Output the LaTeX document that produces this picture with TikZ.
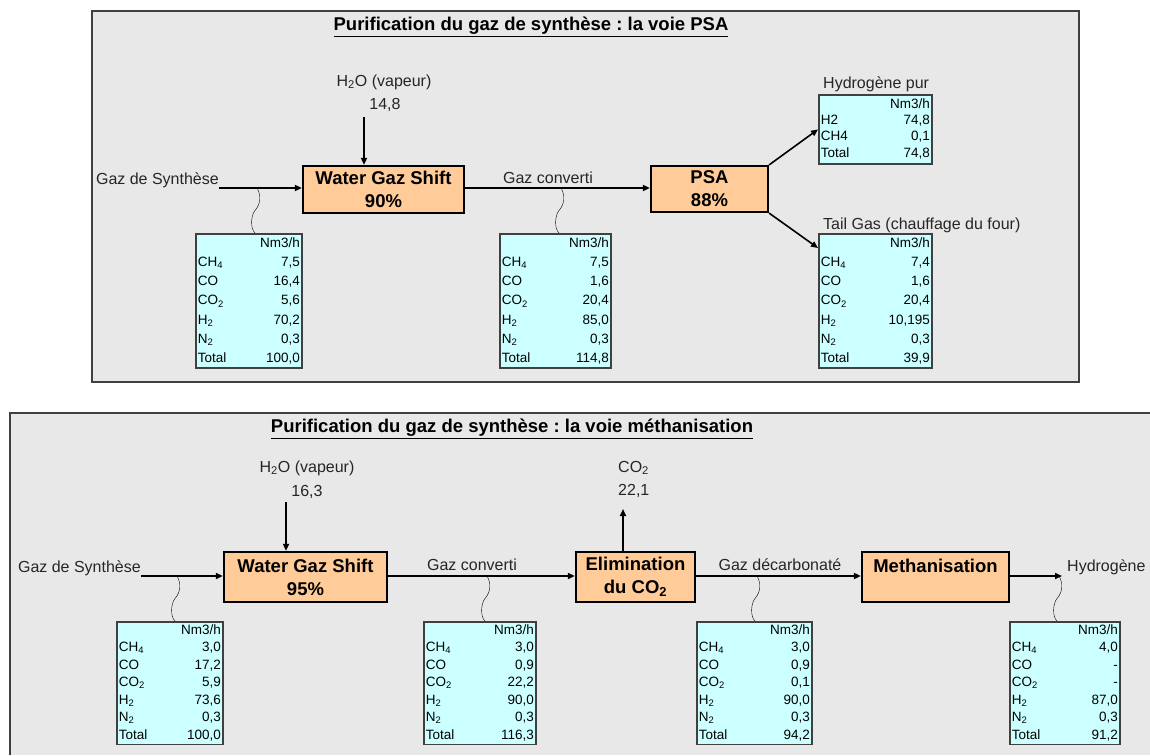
\documentclass[tikz,border=0pt]{standalone}
\usepackage{fontspec}
\setmainfont{Liberation Sans}
\usetikzlibrary{arrows.meta}
\usetikzlibrary{calc}
\usetikzlibrary{positioning}

\definecolor{panelgray}{HTML}{E8E8E8}
\definecolor{unitorange}{HTML}{FFCC99}
\definecolor{tabcyan}{HTML}{CCFFFF}
\definecolor{inkgray}{HTML}{262626}
\definecolor{rimgray}{HTML}{404040}

\frenchspacing

% composition table: pitch, then CH4 CO CO2 H2 N2 Total
\newcommand{\flowtab}[7]{%
  \fontsize{13.5}{#1}\selectfont
  \begin{tabular*}{\linewidth}{@{}l@{\extracolsep{\fill}}r@{}}
    & Nm3/h\\
    CH\textsubscript{4} & #2\\
    CO & #3\\
    CO\textsubscript{2} & #4\\
    H\textsubscript{2} & #5\\
    N\textsubscript{2} & #6\\
    Total & #7
  \end{tabular*}}

\tikzset{
  panel/.style={fill=panelgray, draw=rimgray, line width=1.1pt},
  unit/.style={draw=black, fill=unitorange, line width=2.2pt, align=center,
    font=\fontsize{18.5}{23}\selectfont\bfseries, inner sep=0pt},
  tab/.style={draw=rimgray, fill=tabcyan, line width=1.6pt, anchor=north west,
    inner xsep=2pt, inner ysep=0pt},
  lbl/.style={font=\fontsize{16}{19}\selectfont, text=inkgray, inner sep=0pt},
  heading/.style={font=\fontsize{18.5}{22}\selectfont\bfseries, inner sep=0pt},
  flow/.style={line width=1.6pt, -{Triangle[length=7pt,width=6pt]}},
  curly/.style={draw=black!85, line width=1.3pt, to path={
    .. controls ($(\tikztostart)!0.15!(\tikztotarget)+(4,0)$) and ($(\tikztostart)!0.35!(\tikztotarget)+(4,0)$)
    .. ($(\tikztostart)!0.5!(\tikztotarget)+(-2,0)$)
    .. controls ($(\tikztostart)!0.6!(\tikztotarget)+(-6,0)$) and ($(\tikztostart)!0.9!(\tikztotarget)+(-7,0)$)
    .. ($(\tikztotarget)+(-2,0)$)}},
}

\begin{document}
\begin{tikzpicture}[x=1pt, y=-1pt]
  \useasboundingbox (0,0) rectangle (1150,755);

  % voie PSA
  \draw[panel] (92,11) rectangle (1079,382);
  \node[heading] (title1) at (531,27) {\underline{Purification du gaz de synthèse : la voie PSA}};

  \node[lbl, anchor=base east] (gds1) at (219,184) {Gaz de Synthèse};
  \coordinate (in1) at (219,188);
  \node[unit, minimum width=161pt, minimum height=47pt] (wgs1) at (383.5,189.5) {Water Gaz Shift\\90\%};
  \node[lbl] (h2o1) at (384,82) {H\textsubscript{2}O (vapeur)};
  \node[lbl] (q1) at (385,105) {14,8};
  \coordinate (s1) at (364,117);
  \node[lbl, anchor=base] (conv1) at (548,183) {Gaz converti};
  \node[unit, minimum width=117pt, minimum height=46pt] (psa) at (709.5,189) {PSA\\88\%};

  \node[tab, text width=102pt] (t1) at (195,233) {\flowtab{19.2}{7,5}{16,4}{5,6}{70,2}{0,3}{100,0}};
  \node[tab, text width=107pt] (t2) at (499,233) {\flowtab{19.2}{7,5}{1,6}{20,4}{85,0}{0,3}{114,8}};
  \node[tab, text width=109pt] (tail) at (818,233) {\flowtab{19.2}{7,4}{1,6}{20,4}{10,195}{0,3}{39,9}};
  \node[tab, text width=109pt, inner ysep=2pt] (h2t) at (818,94) {%
    \fontsize{13.5}{16.3}\selectfont
    \begin{tabular*}{\linewidth}{@{}l@{\extracolsep{\fill}}r@{}}
      & Nm3/h\\
      H2 & 74,8\\
      CH4 & 0,1\\
      Total & 74,8
    \end{tabular*}};
  \node[lbl, anchor=base west] (purlbl) at (823,88) {Hydrogène pur};
  \node[lbl, anchor=base west] (taillbl) at (823,229) {Tail Gas (chauffage du four)};

  \draw[flow] (in1) -- (in1 -| wgs1.west);
  \draw[flow] (s1) -- (s1 |- wgs1.north);
  \draw[flow] (wgs1.east |- in1) -- (psa.west |- in1);
  \draw[flow] (psa.north east) -- (h2t.west);
  \draw[flow] (psa.south east) -- ([yshift=-15pt]tail.north west);

  \coordinate (k1) at (257,188);
  \coordinate (k2) at (561,188);
  \draw (k1) to[curly] (k1 |- t1.north);
  \draw (k2) to[curly] (k2 |- t2.north);

  % voie methanisation
  \fill[panelgray] (10,413) rectangle (1150,755);
  \draw[rimgray, line width=1.1pt] (10,755) -- (10,413) -- (1150,413);
  \node[heading] (title2) at (512,429) {\underline{Purification du gaz de synthèse : la voie méthanisation}};

  \node[lbl, anchor=base east] (gds2) at (141,572) {Gaz de Synthèse};
  \coordinate (in2) at (141,576);
  \node[unit, minimum width=163pt, minimum height=50pt] (wgs2) at (305.5,577) {Water Gaz Shift\\95\%};
  \node[lbl] (h2o2) at (307,468) {H\textsubscript{2}O (vapeur)};
  \node[lbl] (q2) at (307,492) {16,3};
  \coordinate (s2) at (286,502);
  \node[lbl, anchor=base] (conv2) at (472,570) {Gaz converti};
  \node[unit, minimum width=119pt, minimum height=50pt] (elim) at (635.5,577) {Elimination\\du CO\textsubscript{2}};
  \coordinate (co2out) at (623,509);
  \node[lbl, anchor=west] (co2lbl) at (618,468) {CO\textsubscript{2}};
  \node[lbl, anchor=west] (q3) at (618,491) {22,1};
  \node[lbl, anchor=base] (decarb) at (780,570) {Gaz décarbonaté};
  \node[unit, minimum width=147pt, minimum height=50pt] (meth) at (935.5,577) {Methanisation\\\mbox{}};
  \coordinate (out2) at (1062,576);
  \node[lbl, anchor=base west] (h2out) at (1067,571) {Hydrogène};

  \node[tab, text width=102pt] (b1) at (116,621) {\flowtab{17.5}{3,0}{17,2}{5,9}{73,6}{0,3}{100,0}};
  \node[tab, text width=108pt] (b2) at (423,621) {\flowtab{17.5}{3,0}{0,9}{22,2}{90,0}{0,3}{116,3}};
  \node[tab, text width=111pt] (b3) at (696,621) {\flowtab{17.5}{3,0}{0,9}{0,1}{90,0}{0,3}{94,2}};
  \node[tab, text width=106pt] (b4) at (1009,621) {\flowtab{17.5}{4,0}{-}{-}{87,0}{0,3}{91,2}};

  \draw[flow] (in2) -- (in2 -| wgs2.west);
  \draw[flow] (s2) -- (s2 |- wgs2.north);
  \draw[flow] (wgs2.east |- in2) -- (elim.west |- in2);
  \draw[flow] (elim.north -| co2out) -- (co2out);
  \draw[flow] (elim.east |- in2) -- (meth.west |- in2);
  \draw[flow] (meth.east |- in2) -- (out2);

  \coordinate (k3) at (177,576);
  \coordinate (k4) at (487,576);
  \coordinate (k5) at (757,576);
  \coordinate (k6) at (1059,576);
  \draw (k3) to[curly] (k3 |- b1.north);
  \draw (k4) to[curly] (k4 |- b2.north);
  \draw (k5) to[curly] (k5 |- b3.north);
  \draw (k6) to[curly] (k6 |- b4.north);
\end{tikzpicture}
\end{document}
